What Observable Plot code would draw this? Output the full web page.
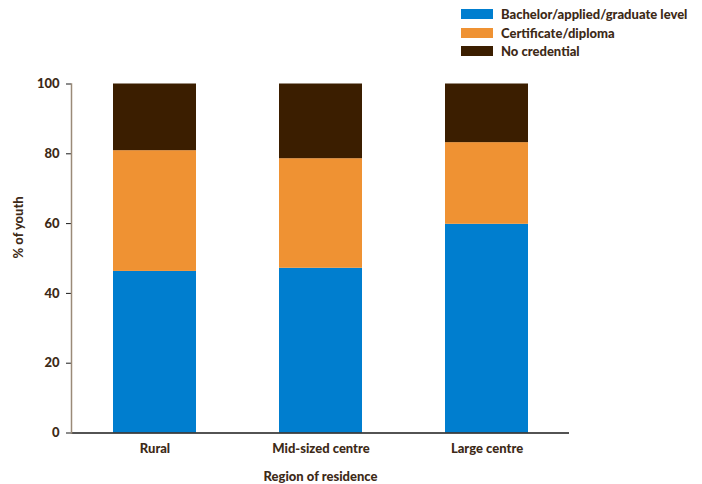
<!DOCTYPE html>
<html>
<head>
<meta charset="utf-8">
<script src="https://cdn.jsdelivr.net/npm/d3@7"></script>
<script src="https://cdn.jsdelivr.net/npm/@observablehq/plot@0.6"></script>
<style>
  body { margin: 0; background: #fff; }
  #wrap { position: relative; width: 702px; height: 484px; font-family: Lato, "Open Sans", sans-serif; }
  #legend { position: absolute; left: 461px; top: 5px; font-weight: 900; font-size: 13px; color: #3d2a17; }
  .item { display: flex; align-items: center; height: 18.5px; }
  .sw { width: 32px; height: 10px; margin-right: 8px; }
</style>
</head>
<body>
<div id="wrap">
  <div id="chart"></div>
  <div id="legend"></div>
</div>
<script>
const regions = ["Rural", "Mid-sized centre", "Large centre"];
const series = ["Bachelor/applied/graduate level", "Certificate/diploma", "No credential"];
const colors = ["#007ECF", "#EF9233", "#3B1E00"];
const bachelor = [46.3, 47.2, 59.8];
const certificate = [34.6, 31.4, 23.4];
const noCredential = [19.1, 21.4, 16.8];
const yTicks = [0, 20, 40, 60, 80, 100];

const values = [bachelor, certificate, noCredential];
const data = [];
series.forEach((s, i) => regions.forEach((r, j) => data.push({region: r, series: s, value: values[i][j]})));

const textColor = "#3d2a17";

const plot = Plot.plot({
  width: 702,
  height: 484,
  marginLeft: 71,
  marginRight: 133,
  marginTop: 83.5,
  marginBottom: 51.5,
  style: {fontFamily: "Lato, 'Open Sans', sans-serif", fontSize: "13px", fontWeight: "900", color: textColor, background: "#fff"},
  x: {domain: regions, paddingInner: 0.5, paddingOuter: 0.25, label: null},
  y: {domain: [0, 100], label: null},
  color: {domain: series, range: colors},
  marks: [
    Plot.barY(data, Plot.stackY({order: series, x: "region", y: "value", fill: "series"})),
    Plot.ruleY([0], {stroke: "#1a1a1a", strokeWidth: 1.5}),
    Plot.axisY({ticks: yTicks, tickSize: 5, tickPadding: 7, tickFormat: d => d, stroke: "#1a1a1a", fill: textColor, label: null}),
    Plot.axisX({tickSize: 0, tickPadding: 11, fill: textColor, label: null}),
    Plot.frame({anchor: "left", stroke: "#9a8a78", strokeWidth: 1.5}),
    Plot.text(["% of youth"], {frameAnchor: "left", dx: -53, rotate: -90, fill: textColor, fontWeight: "900", fontSize: 13}),
    Plot.text(["Region of residence"], {frameAnchor: "bottom", dy: 48, fill: textColor, fontWeight: "900", fontSize: 13})
  ]
});
document.getElementById("chart").appendChild(plot);

const legend = document.getElementById("legend");
series.forEach((s, i) => {
  const it = document.createElement("div");
  it.className = "item";
  const sw = document.createElement("div");
  sw.className = "sw";
  sw.style.background = colors[i];
  const t = document.createElement("span");
  t.textContent = s;
  it.appendChild(sw); it.appendChild(t);
  legend.appendChild(it);
});
</script>
</body>
</html>
